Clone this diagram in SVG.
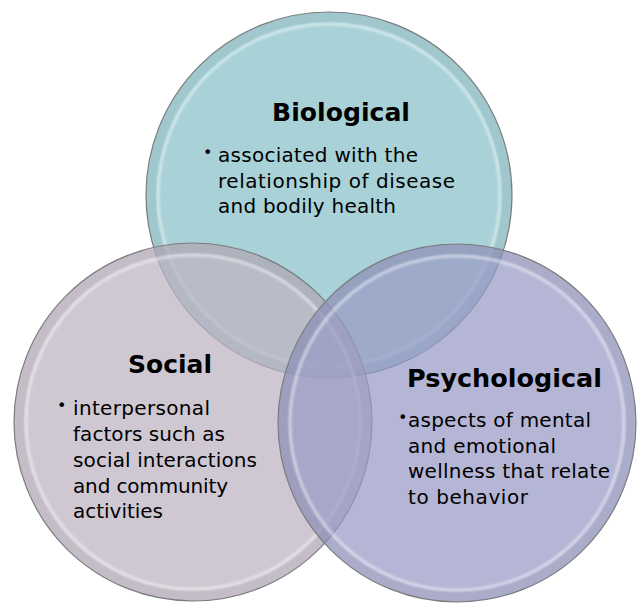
<svg xmlns="http://www.w3.org/2000/svg" width="637" height="604" viewBox="0 0 637 604">
<defs>
<filter id="soft" x="-10%" y="-10%" width="120%" height="120%"><feGaussianBlur stdDeviation="1.2"/></filter>
<style>
.disc{stroke:#7e8082;stroke-width:1.2}
.band{fill:none;stroke:#000;stroke-opacity:0.05;stroke-width:10}
.hl{fill:none;stroke:#fff;stroke-opacity:0.45;stroke-width:3;filter:url(#soft)}
.title{font-family:"DejaVu Sans",sans-serif;font-weight:bold;font-size:25px;fill:#000}
.body{font-family:"DejaVu Sans",sans-serif;font-size:20px;fill:#000}
.bul{font-family:"DejaVu Sans",sans-serif;font-size:16px;fill:#000}
</style>
</defs>
<rect width="637" height="604" fill="#fff"/>
<g id="biological">
<circle class="disc" cx="329" cy="195" r="183" fill="#86C0C7" fill-opacity="0.72"/>
<circle class="band" cx="329" cy="195" r="178"/>
<circle class="hl" cx="329" cy="195" r="171"/>
<text class="title" x="272" y="121" textLength="138" lengthAdjust="spacingAndGlyphs">Biological</text>
<text class="bul" x="203" y="158">•</text>
<text class="body" x="218" y="162" textLength="200" lengthAdjust="spacing">associated with the</text>
<text class="body" x="218" y="188" textLength="237" lengthAdjust="spacing">relationship of disease</text>
<text class="body" x="218" y="213" textLength="178" lengthAdjust="spacing">and bodily health</text>
</g>
<g id="social">
<circle class="disc" cx="193" cy="422" r="179" fill="#BCB3C0" fill-opacity="0.72"/>
<circle class="band" cx="193" cy="422" r="174"/>
<circle class="hl" cx="193" cy="422" r="167"/>
<text class="title" x="128" y="373" textLength="84" lengthAdjust="spacingAndGlyphs">Social</text>
<text class="bul" x="57" y="411">•</text>
<text class="body" x="73" y="415" textLength="137" lengthAdjust="spacing">interpersonal</text>
<text class="body" x="73" y="441" textLength="152" lengthAdjust="spacing">factors such as</text>
<text class="body" x="73" y="467" textLength="184" lengthAdjust="spacing">social interactions</text>
<text class="body" x="73" y="493" textLength="155" lengthAdjust="spacing">and community</text>
<text class="body" x="73" y="518" textLength="90" lengthAdjust="spacing">activities</text>
</g>
<g id="psychological">
<circle class="disc" cx="457" cy="423" r="179" fill="#989AC5" fill-opacity="0.72"/>
<circle class="band" cx="457" cy="423" r="174"/>
<circle class="hl" cx="457" cy="423" r="167"/>
<text class="title" x="407" y="387" textLength="195" lengthAdjust="spacingAndGlyphs">Psychological</text>
<text class="bul" x="398" y="423">•</text>
<text class="body" x="408" y="427" textLength="183" lengthAdjust="spacing">aspects of mental</text>
<text class="body" x="408" y="453" textLength="148" lengthAdjust="spacing">and emotional</text>
<text class="body" x="408" y="478" textLength="202" lengthAdjust="spacing">wellness that relate</text>
<text class="body" x="408" y="504" textLength="120" lengthAdjust="spacing">to behavior</text>
</g>
<g id="connectors"/>
</svg>
